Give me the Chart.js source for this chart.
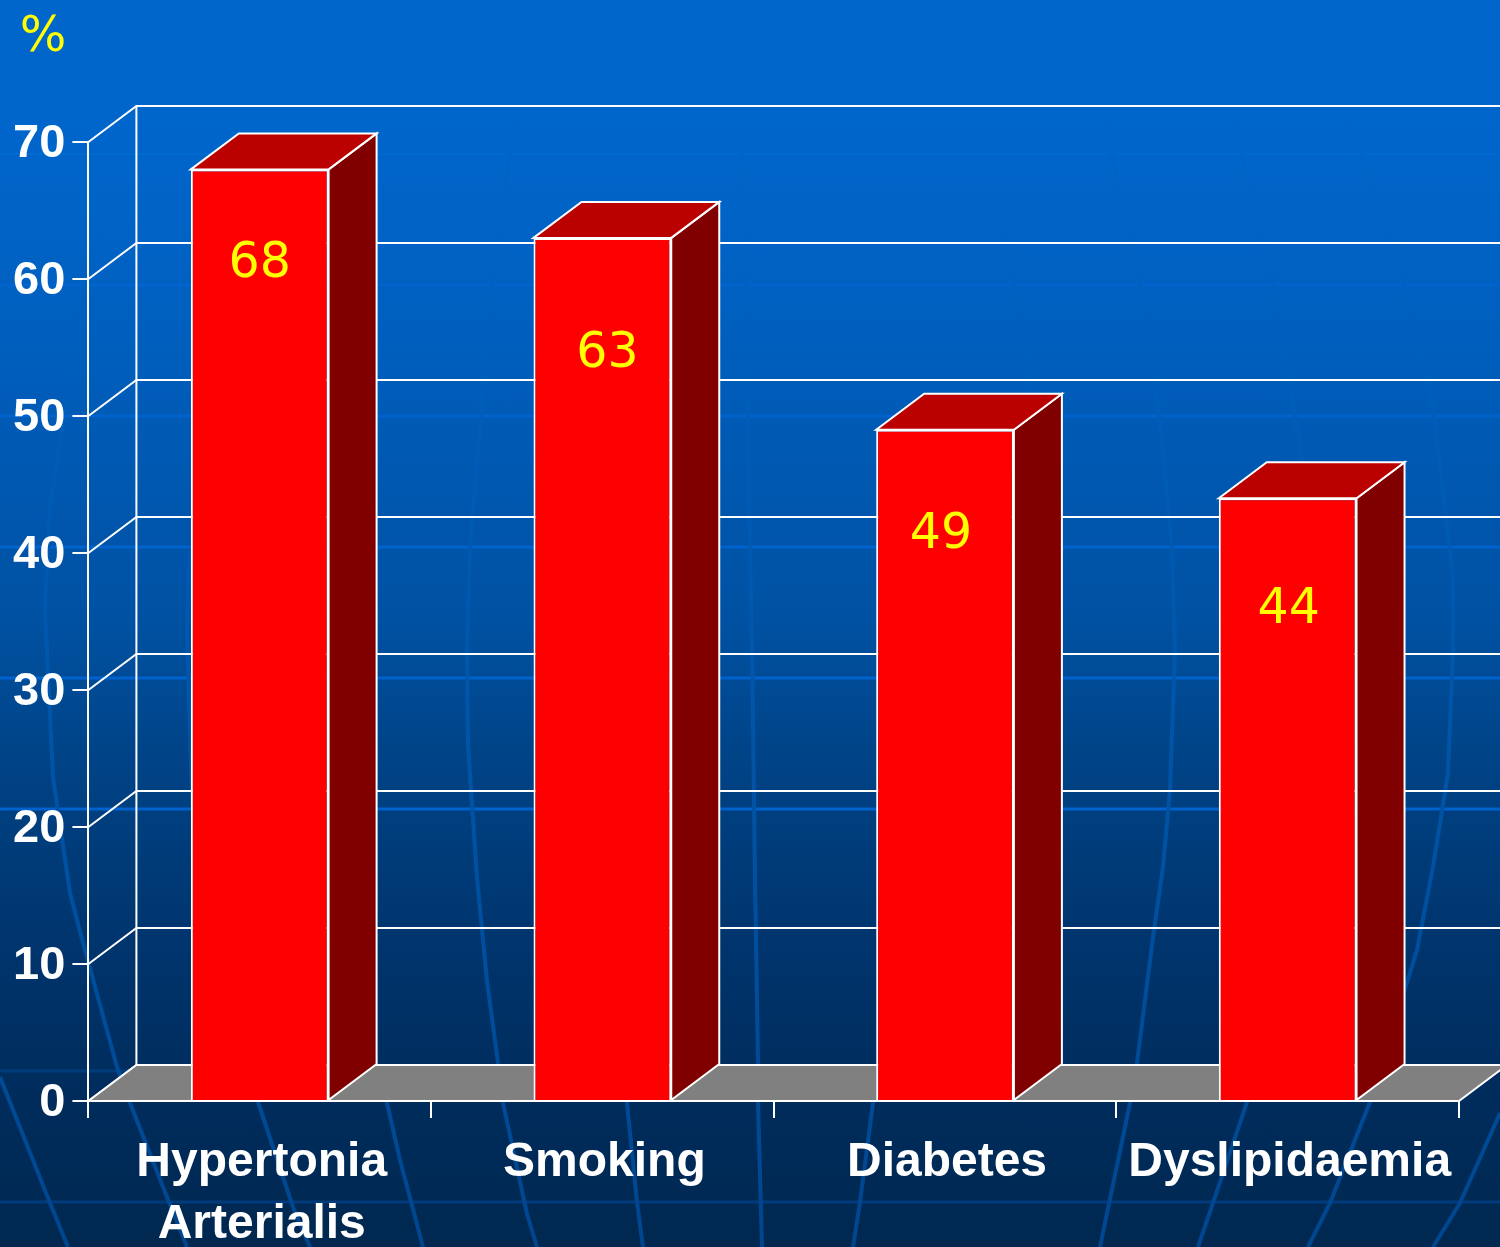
<!DOCTYPE html>
<html>
<head>
<meta charset="utf-8">
<style>
  html, body { margin: 0; padding: 0; background: #003366; }
  #wrap { position: relative; width: 1500px; height: 1247px; overflow: hidden;
    background: linear-gradient(180deg, #0066cc 0%, #0066cc 9%, #0060c0 25%, #0051a2 50%, #004488 60%, #00356e 75%, #002c5c 88%, #002850 100%); }
  #wrap svg, #wrap canvas { position: absolute; left: 0; top: 0; }
</style>
<script src="https://cdn.jsdelivr.net/npm/chart.js@4"></script>
</head>
<body>
<div id="wrap">
  <!-- slide background: faint globe lines -->
  <svg width="1500" height="1247" fill="none" stroke-linejoin="round">
    <defs>
      <linearGradient id="globe" gradientUnits="userSpaceOnUse" x1="0" y1="0" x2="0" y2="1247">
        <stop offset="0" stop-color="#0068d0"/>
        <stop offset="0.55" stop-color="#0056aa"/>
        <stop offset="1" stop-color="#00468f"/>
      </linearGradient>
    </defs>
    <g stroke="#0062cc" stroke-width="3">
      <path d="M0 154H1500" stroke="#0069d0" stroke-width="2"/>
      <path d="M0 285H1500" stroke="#0064cc"/>
      <path d="M0 416H1500"/>
      <path d="M0 547H1500"/>
      <path d="M0 678H1500"/>
      <path d="M0 809H1500"/>
      <path d="M0 1071H1500" stroke="#003c7c"/>
      <path d="M0 1202H1500" stroke="#003c7c"/>
    </g>
    <g stroke="url(#globe)" stroke-width="4">
      <polyline points="100,230 80,312 50,507 45,611 53,777 70,893 82,939 117,1067 130,1103 167,1197 187,1247"/>
      <polyline points="0,1077 50,1203 68,1247"/>
      <polyline points="190,550 187,630 192,800 215,1000 258,1102 293,1207 310,1247"/>
      <polyline points="360,800 368,1000 376,1065 387,1103 400,1160 423,1247"/>
      <polyline points="517,107 493,271 470,546 467,650 468,745 477,878 487,981 498,1063 503,1103 527,1214 537,1247"/>
      <polyline points="600,800 610,1000 627,1103 637,1202 643,1247"/>
      <polyline points="743,136 747,386 752,650 755,878 758,1063 758,1103 762,1247"/>
      <polyline points="1000,196 1027,368 1035,500 1030,750 1000,900 930,1000 873,1103 860,1202 853,1247"/>
      <polyline points="1100,100 1140,284 1160,418 1172,548 1175,650 1170,790 1163,867 1153,937 1137,1063 1130,1103 1100,1247"/>
      <polyline points="1233,120 1273,284 1300,445 1320,650 1310,850 1280,1000 1247,1102 1213,1203 1198,1247"/>
      <polyline points="1350,120 1397,253 1433,406 1453,579 1453,650 1448,773 1433,867 1417,950 1370,1102 1330,1203 1308,1247"/>
      <polyline points="1500,1113 1460,1203 1433,1247"/>
    </g>
  </svg>
  <canvas id="chart" width="1500" height="1247" role="img" aria-label="Risk factors, percent"></canvas>
</div>
<script>
const categories = [['Hypertonia', 'Arterialis'], 'Smoking', 'Diabetes', 'Dyslipidaemia'];
const values = [68, 63, 49, 44];
const yTicks = [0, 10, 20, 30, 40, 50, 60, 70];

const DX = 48, DY = -36;
// where each value label sits relative to the top centre of its bar
const labelOffsetX = [0, 5, -4, 1];
const labelOffsetY = [93, 114, 104, 110];
const valueFont = '49px "DejaVu Sans"';

function poly(ctx, pts, fill) {
  ctx.beginPath();
  pts.forEach((p, i) => i ? ctx.lineTo(p[0], p[1]) : ctx.moveTo(p[0], p[1]));
  ctx.closePath();
  ctx.fillStyle = fill;
  ctx.fill();
  ctx.strokeStyle = '#fff';
  ctx.lineWidth = 2;
  ctx.stroke();
}

// back wall, floor and the side faces of the bars
const box3d = {
  id: 'box3d',
  beforeDatasetsDraw(chart) {
    const { ctx, scales: { x, y } } = chart;
    const left = x.left, right = x.right, base = y.getPixelForValue(0);
    ctx.save();
    ctx.strokeStyle = '#fff';
    ctx.lineWidth = 2;
    yTicks.forEach(t => {
      const py = y.getPixelForValue(t);
      ctx.beginPath();
      ctx.moveTo(left, py);
      ctx.lineTo(left + DX, py + DY);
      if (t > 0) ctx.lineTo(1500, py + DY);
      ctx.stroke();
    });
    ctx.beginPath();
    ctx.moveTo(left + DX, y.getPixelForValue(70) + DY);
    ctx.lineTo(left + DX, base + DY);
    ctx.stroke();
    poly(ctx, [[left, base], [left + DX, base + DY], [right + DX, base + DY], [right, base]], '#808080');
    chart.getDatasetMeta(0).data.forEach(bar => {
      const l = bar.x - bar.width / 2, r = bar.x + bar.width / 2;
      poly(ctx, [[r, bar.y], [r + DX, bar.y + DY], [r + DX, bar.base + DY], [r, bar.base]], '#800000');
      poly(ctx, [[l, bar.y], [l + DX, bar.y + DY], [r + DX, bar.y + DY], [r, bar.y]], '#bb0000');
    });
    ctx.restore();
  },
  afterDatasetsDraw(chart) {
    const { ctx } = chart;
    ctx.save();
    ctx.font = valueFont;
    ctx.fillStyle = '#ffff00';
    ctx.textAlign = 'center';
    ctx.textBaseline = 'middle';
    chart.getDatasetMeta(0).data.forEach((bar, i) => {
      ctx.fillText(String(values[i]), bar.x + labelOffsetX[i], bar.y + labelOffsetY[i] + 2);
    });
    ctx.fillText('%', 43, 38);
    ctx.restore();
  }
};

new Chart(document.getElementById('chart'), {
  type: 'bar',
  data: {
    labels: categories,
    datasets: [{
      data: values,
      backgroundColor: '#ff0000',
      borderColor: '#fff',
      borderWidth: 2,
      barPercentage: 0.402,
      categoryPercentage: 1
    }]
  },
  options: {
    responsive: false,
    animation: false,
    layout: { padding: { left: 0, right: 41, top: 142, bottom: 0 } },
    plugins: { legend: { display: false }, tooltip: { enabled: false } },
    scales: {
      x: {
        position: 'bottom',
        afterFit(s) { s.height = 146; },
        border: { color: '#fff', width: 2 },
        grid: { drawOnChartArea: false, color: '#fff', lineWidth: 2, tickLength: 17, offset: true },
        ticks: { color: '#fff', font: { family: '"Liberation Sans"', size: 48, weight: 'bold', lineHeight: 1.29 }, padding: 14, labelOffset: 2, maxRotation: 0, autoSkip: false }
      },
      y: {
        min: 0, max: 70,
        afterFit(s) { s.width = 88.4; },
        border: { color: '#fff', width: 2 },
        grid: { drawOnChartArea: false, color: '#fff', lineWidth: 2, tickLength: 16 },
        ticks: { stepSize: 10, color: '#fff', font: { family: '"Liberation Sans"', size: 47, weight: 'bold' }, padding: 7, labelOffset: 2 }
      }
    }
  },
  plugins: [box3d]
});
</script>
</body>
</html>
